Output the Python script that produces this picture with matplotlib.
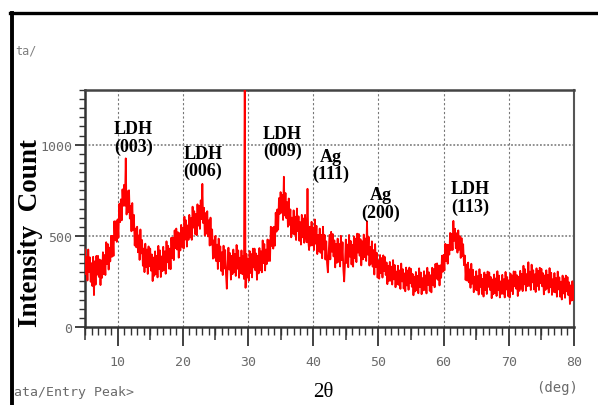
import numpy as np
import matplotlib
matplotlib.use("Agg")
import matplotlib.pyplot as plt
from matplotlib.lines import Line2D
from matplotlib.ticker import MultipleLocator, FixedLocator, NullFormatter

# XRD scan, 2-theta from 5 to 80 deg in 0.125 deg steps (one row per degree)
intensity = [
    425, 290, 385, 255, 425, 301, 382, 248,   # 5
    350, 225, 385, 175, 360, 232, 390, 287,   # 6
    390, 275, 370, 230, 365, 270, 410, 290,   # 7
    395, 285, 465, 345, 455, 315, 435, 360,   # 8
    500, 385, 500, 390, 580, 477, 580, 467,   # 9
    590, 490, 675, 575, 700, 585, 755, 665,   # 10
    780, 665, 925, 617, 745, 630, 750, 595,   # 11
    665, 525, 680, 532, 615, 447, 540, 437,   # 12
    550, 410, 502, 368, 535, 404, 477, 336,   # 13
    430, 301, 457, 328, 425, 291, 442, 333,   # 14
    430, 309, 398, 252, 381, 281, 415, 290,   # 15
    390, 272, 445, 317, 420, 274, 387, 306,   # 16
    440, 312, 415, 292, 470, 355, 445, 320,   # 17
    430, 317, 490, 377, 490, 367, 530, 432,   # 18
    540, 425, 520, 380, 515, 420, 560, 440,   # 19
    545, 430, 605, 480, 585, 441, 557, 478,   # 20
    615, 491, 597, 478, 660, 545, 635, 510,   # 21
    620, 504, 673, 556, 665, 538, 695, 592,   # 22
    785, 570, 654, 502, 625, 512, 635, 497,   # 23
    585, 447, 600, 452, 535, 375, 475, 380,   # 24
    500, 361, 452, 318, 485, 361, 442, 308,   # 25
    410, 285, 446, 321, 422, 290, 210, 336,   # 26
    435, 315, 405, 260, 390, 290, 425, 300,   # 27
    400, 280, 450, 320, 420, 270, 380, 295,   # 28
    420, 290, 389, 264, 1400, 215, 401, 271,  # 29
    375, 254, 417, 296, 400, 272, 430, 327,   # 30
    430, 311, 403, 259, 391, 294, 433, 311,   # 31
    415, 300, 475, 350, 455, 310, 425, 345,   # 32
    480, 362, 475, 362, 550, 445, 545, 430,   # 33
    550, 446, 627, 523, 645, 534, 707, 621,   # 34
    740, 627, 725, 587, 824, 612, 735, 597,   # 35
    685, 550, 705, 560, 645, 492, 600, 512,   # 36
    640, 507, 605, 477, 650, 526, 607, 473,   # 37
    575, 452, 615, 492, 595, 462, 615, 507,   # 38
    465, 758, 470, 422, 550, 446, 577, 448,   # 39
    545, 422, 590, 457, 555, 400, 505, 415,   # 40
    540, 407, 505, 377, 550, 425, 505, 370,   # 41
    470, 351, 300, 398, 505, 371, 522, 413,   # 42
    510, 387, 475, 327, 455, 352, 485, 357,   # 43
    455, 332, 500, 367, 465, 317, 250, 347,   # 44
    480, 351, 452, 328, 505, 386, 472, 343,   # 45
    450, 331, 497, 378, 485, 356, 512, 408,   # 46
    510, 391, 482, 338, 470, 371, 507, 383,   # 47
    485, 362, 580, 397, 495, 337, 440, 347,   # 48
    470, 331, 422, 288, 455, 329, 407, 271,   # 49
    364, 265, 395, 296, 378, 271, 393, 306,   # 50
    384, 285, 354, 235, 336, 253, 357, 254,   # 51
    331, 233, 367, 261, 340, 218, 304, 234,   # 52
    336, 231, 310, 209, 348, 250, 317, 211,   # 53
    294, 196, 326, 228, 310, 204, 326, 240,   # 54
    319, 221, 291, 174, 276, 195, 302, 201,   # 55
    281, 185, 322, 218, 299, 180, 268, 201,   # 56
    306, 203, 283, 184, 325, 231, 300, 198,   # 57
    284, 190, 325, 231, 318, 218, 346, 265,   # 58
    349, 259, 337, 228, 338, 270, 391, 303,   # 59
    396, 310, 456, 362, 452, 347, 450, 397,   # 60
    516, 422, 512, 422, 582, 473, 539, 432,   # 61
    514, 408, 530, 424, 498, 379, 488, 389,   # 62
    454, 339, 392, 258, 343, 254, 353, 245,   # 63
    316, 215, 347, 238, 314, 191, 276, 205,   # 64
    306, 201, 279, 178, 317, 220, 287, 181,   # 65
    264, 167, 299, 202, 286, 181, 304, 220,   # 66
    299, 203, 274, 158, 261, 180, 288, 187,   # 67
    266, 170, 306, 202, 282, 162, 250, 182,   # 68
    286, 182, 262, 162, 302, 206, 274, 170,   # 69
    256, 161, 293, 198, 283, 180, 305, 223,   # 70
    304, 210, 284, 170, 276, 198, 308, 210,   # 71
    291, 197, 336, 234, 317, 199, 290, 224,   # 72
    355, 226, 304, 203, 342, 245, 311, 206,   # 73
    289, 192, 322, 225, 308, 203, 325, 240,   # 74
    319, 223, 295, 179, 283, 203, 311, 211,   # 75
    286, 189, 323, 218, 297, 176, 262, 193,   # 76
    296, 190, 268, 166, 304, 206, 272, 166,   # 77
    249, 151, 282, 184, 266, 160, 282, 196,   # 78
    274, 175, 245, 126, 228, 145, 251, 148,   # 79
    226,                                      # 80
]
two_theta = np.linspace(5, 80, len(intensity))

# Peak assignments
peak_labels = ["LDH\n(003)", "LDH\n(006)", "LDH\n(009)", "Ag\n(111)", "Ag\n(200)", "LDH\n(113)"]
label_pos = [(12.45, 1039), (23.1, 904), (35.3, 1014), (42.75, 888), (50.3, 677), (64.1, 711)]

x_major = [10, 20, 30, 40, 50, 60, 70, 80]
x_mid = [5, 15, 25, 35, 45, 55, 65, 75]
y_major = [0, 500, 1000]

W, H = 598, 406
fig = plt.figure(figsize=(W / 100, H / 100), dpi=100)
fig.patch.set_facecolor("white")
ax = fig.add_axes([85 / W, (H - 328) / H, (574 - 85) / W, (328 - 91) / H])

ax.plot(two_theta, intensity, color="#ff0000", lw=1.3, zorder=3)
ax.set_xlim(5, 80)
ax.set_ylim(0, 1300)

mono = "DejaVu Sans Mono"
tick_gray = "#6a6a6a"

ax.set_xticks(x_major)
ax.xaxis.set_minor_locator(MultipleLocator(1))
ax.set_yticks(y_major)
ax.yaxis.set_minor_locator(MultipleLocator(50))
ax.tick_params(axis="x", which="major", direction="out", length=14, width=1.3,
               color="#333333", pad=6, labelcolor=tick_gray, labelsize=9.5)
ax.tick_params(axis="x", which="minor", direction="out", length=5.5, width=1.0,
               color="#333333")
ax.tick_params(axis="y", which="major", direction="out", length=7, width=1.3,
               color="#333333", pad=2, labelcolor=tick_gray, labelsize=9.5)
ax.tick_params(axis="y", which="minor", direction="out", length=4.5, width=1.0,
               color="#333333")
for lab in ax.get_xticklabels() + ax.get_yticklabels():
    lab.set_fontfamily(mono)

# Mid-length ticks at the 5s
sec = ax.secondary_xaxis("bottom")
sec.xaxis.set_major_locator(FixedLocator(x_mid))
sec.xaxis.set_major_formatter(NullFormatter())
sec.tick_params(direction="out", length=9.5, width=1.1, color="#333333")
sec.spines["bottom"].set_visible(False)

# Dotted grid
for xv in x_major[:-1]:
    ax.axvline(xv, color="#777777", lw=0.8, ls=(0, (2, 2)), zorder=1)
for yv in y_major[1:]:
    ax.axhline(yv, color="#888888", lw=1.3, ls=(0, (1, 1)), zorder=1)

for side, col, lw in [("left", "#333333", 1.8), ("bottom", "#333333", 1.8),
                      ("top", "#444444", 1.8), ("right", "#555555", 1.5)]:
    ax.spines[side].set_color(col)
    ax.spines[side].set_linewidth(lw)

for txt, (px, py) in zip(peak_labels, label_pos):
    ax.text(px, py, txt, ha="center", va="center", fontfamily="Liberation Serif",
            fontweight="bold", fontsize=13, linespacing=1.0, zorder=4)

fig.text(31 / W, 1 - 233 / H, "Intensity  Count", rotation=90, ha="center", va="center",
         fontfamily="Liberation Serif", fontweight="bold", fontsize=19.5, color="black")
fig.text(323 / W, 1 - 393 / H, "2θ", ha="center", va="center",
         fontfamily="Liberation Serif", fontsize=15, color="black")
fig.text(557 / W, 1 - 388 / H, "(deg)", ha="center", va="center",
         fontfamily=mono, fontsize=10, color=tick_gray)
fig.text(14 / W, 1 - 393 / H, "ata/Entry Peak>", ha="left", va="center",
         fontfamily=mono, fontsize=9.5, color=tick_gray)
fig.text(15 / W, 1 - 51 / H, "ta/", ha="left", va="center",
         fontfamily=mono, fontsize=8.5, color="#808080")

# Window frame lines
fig.add_artist(Line2D([10 / W, 1], [1 - 14 / H] * 2, color="black", lw=2.4))
fig.add_artist(Line2D([12 / W] * 2, [0, 1 - 14 / H], color="black", lw=2.8))

fig.savefig("out.png", dpi=100)
